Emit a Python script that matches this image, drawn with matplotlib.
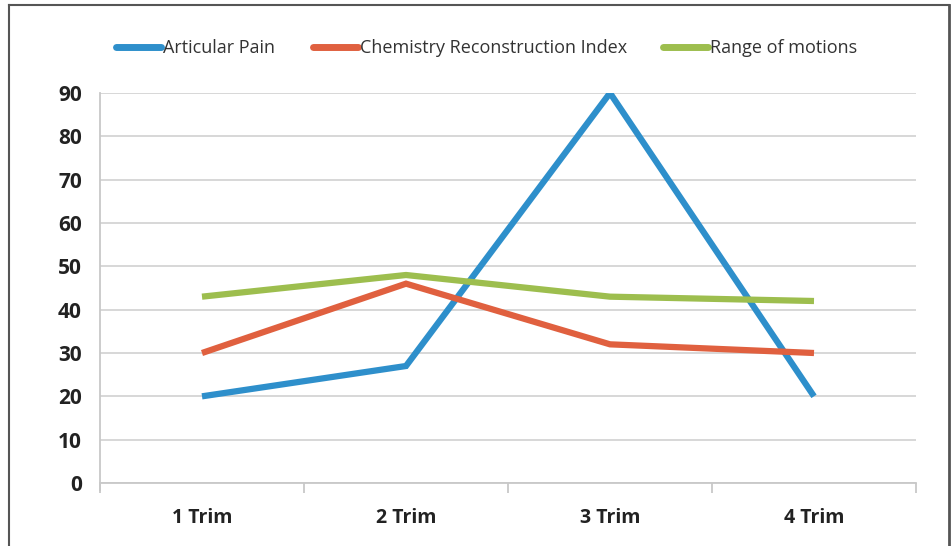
import matplotlib
matplotlib.use("Agg")
import matplotlib.pyplot as plt
from matplotlib.lines import Line2D

categories = ["1 Trim", "2 Trim", "3 Trim", "4 Trim"]
articular_pain = [20, 27, 90, 20]
chemistry_index = [30, 46, 32, 30]
range_of_motions = [43, 48, 43, 42]
series_names = ["Articular Pain", "Chemistry Reconstruction Index", "Range of motions"]
colors = ["#2E8FCB", "#E0603F", "#9DBE4E"]
yticks = [0, 10, 20, 30, 40, 50, 60, 70, 80, 90]

fig = plt.figure(figsize=(9.51, 5.46), dpi=100)
ax = fig.add_axes([100/951, 1 - 483/546, 816/951, 390/546])

x = list(range(len(categories)))
lines = []
for vals, c, n in zip([articular_pain, chemistry_index, range_of_motions], colors, series_names):
    ln, = ax.plot(x, vals, color=c, lw=4.5, label=n, solid_capstyle="butt", solid_joinstyle="miter", zorder=3)
    lines.append(ln)

ax.set_xlim(-0.5, 3.5)
ax.set_ylim(0, 90)
ax.set_yticks(yticks)
ax.set_yticklabels([str(v) for v in yticks], fontsize=15, fontweight="bold", color="#222222",
                   family=["Open Sans", "DejaVu Sans"])
ax.tick_params(axis="y", length=0, pad=13)
ax.grid(axis="y", color="#D4D4D4", lw=1.3, zorder=0)
ax.set_xticks([-0.5, 0.5, 1.5, 2.5, 3.5])
ax.set_xticklabels([])
ax.tick_params(axis="x", which="major", length=7, color="#C8C8C8", width=1.3, direction="out")
ax.set_xticks(x, minor=True)
ax.set_xticklabels(categories, minor=True, fontsize=14, fontweight="bold", color="#222222",
                   family=["Open Sans", "DejaVu Sans"])
ax.tick_params(axis="x", which="minor", length=0, pad=18)
for s in ["top", "right"]:
    ax.spines[s].set_visible(False)
ax.spines["left"].set_color("#C8C8C8")
ax.spines["bottom"].set_color("#C8C8C8")
ax.spines["left"].set_linewidth(1.3)
ax.spines["bottom"].set_linewidth(1.3)
ax.spines["left"].set_bounds(-1.6, 90)

# legend entries, each placed at its own position like the original
legend_x = [116, 313, 663]
for c, n, lx in zip(colors, series_names, legend_x):
    h = Line2D([0], [0], color=c, lw=5, solid_capstyle="round")
    leg = fig.legend([h], [n], loc="center left", bbox_to_anchor=(lx/951, 1 - 48/546),
                     frameon=False, handlelength=2.5, handletextpad=0.1, borderpad=0, borderaxespad=0,
                     prop={"family": ["Open Sans", "DejaVu Sans"], "size": 13})
    for t in leg.get_texts():
        t.set_color("#333333")

# outer frame lines (left, top, right)
fig.add_artist(Line2D([9/951, 9/951], [0, 1 - 5/546], color="#555555", lw=1.5, transform=fig.transFigure))
fig.add_artist(Line2D([9/951, 949/951], [1 - 5/546, 1 - 5/546], color="#555555", lw=1.5, transform=fig.transFigure))
fig.add_artist(Line2D([949/951, 949/951], [0, 1 - 5/546], color="#555555", lw=2, transform=fig.transFigure))

fig.savefig("out.png", dpi=100)
